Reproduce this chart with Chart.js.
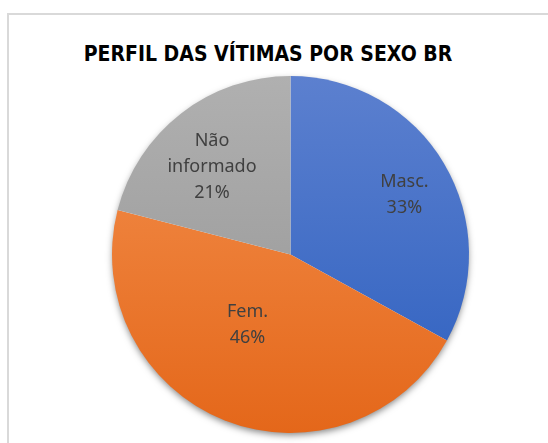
<!DOCTYPE html>
<html>
<head>
<meta charset="utf-8">
<script src="https://cdn.jsdelivr.net/npm/chart.js@4.4.1/dist/chart.umd.min.js"></script>
<style>
  body { margin: 0; background: #fff; overflow: hidden; }
  .frame { position: absolute; left: 7px; top: 13px; width: 600px; height: 500px; border: 2px solid #d9d9d9; box-sizing: border-box; }
  .title { position: absolute; left: 7px; width: 522px; top: 40px; text-align: center;
    font-family: "DejaVu Sans Condensed", "Liberation Sans", sans-serif; font-weight: bold;
    font-size: 21px; line-height: 28px; color: #000; }
  #myChart { position: absolute; left: 0; top: 0; }
</style>
</head>
<body>
<div class="frame"></div>
<div class="title">PERFIL DAS VÍTIMAS POR SEXO BR</div>
<canvas id="myChart" width="548" height="443"></canvas>
<script>
const categories = ['Masc.', 'Fem.', 'Não informado']
const percentages = [33, 46, 21]

// gradient colours (top -> bottom), Excel style
const colorsTop = ['#5c80cf', '#f4914f', '#b0b0b0']
const colorsBottom = ['#2c5fbf', '#e4671a', '#939393']
// label placement: share of the radius and a small turn (degrees) off the mid angle
const labelRadius = [0.72, 0.46, 0.66]
const labelTurn = [3, 10, -4]

const chart = document.querySelector('#myChart')

function sliceColor(ctx) {
  const area = ctx.chart.chartArea
  if (!area) return colorsTop[ctx.dataIndex]
  const g = ctx.chart.ctx.createLinearGradient(0, area.top, 0, area.bottom)
  g.addColorStop(0, colorsTop[ctx.dataIndex])
  g.addColorStop(1, colorsBottom[ctx.dataIndex])
  return g
}

const pieShadow = {
  id: 'pieShadow',
  beforeDatasetsDraw(c) {
    const arc = c.getDatasetMeta(0).data[0]
    if (!arc) return
    const ctx = c.ctx
    ctx.save()
    ctx.shadowColor = 'rgba(0,0,0,0.5)'
    ctx.shadowBlur = 7
    ctx.shadowOffsetY = 3
    ctx.fillStyle = '#fff'
    ctx.beginPath()
    ctx.arc(arc.x, arc.y, arc.outerRadius - 1, 0, Math.PI * 2)
    ctx.fill()
    ctx.restore()
  }
}

const sliceLabels = {
  id: 'sliceLabels',
  afterDatasetsDraw(c) {
    const ctx = c.ctx
    ctx.save()
    ctx.font = '18px "Noto Sans"'
    ctx.fillStyle = '#404040'
    ctx.textAlign = 'center'
    ctx.textBaseline = 'middle'
    c.getDatasetMeta(0).data.forEach((arc, i) => {
      const mid = (arc.startAngle + arc.endAngle) / 2 + labelTurn[i] * Math.PI / 180
      const r = arc.outerRadius * labelRadius[i]
      const x = arc.x + Math.cos(mid) * r
      const y = arc.y + Math.sin(mid) * r
      let lines = [categories[i]]
      if (ctx.measureText(categories[i]).width > 90) lines = categories[i].split(' ')
      lines.push(percentages[i] + '%')
      const lh = 26
      const y0 = y - (lines.length - 1) * lh / 2
      lines.forEach((t, k) => ctx.fillText(t, x, y0 + k * lh))
    })
    ctx.restore()
  }
}

new Chart(chart, {
  type: 'pie',
  data: {
    labels: categories,
    datasets: [{
      data: percentages,
      backgroundColor: sliceColor,
      borderWidth: 0,
      hoverOffset: 0
    }]
  },
  options: {
    responsive: false,
    animation: false,
    events: [],
    layout: { padding: { top: 76, bottom: 10, left: 33, right: 0 } },
    plugins: {
      legend: { display: false },
      title: { display: false },
      tooltip: { enabled: false }
    }
  },
  plugins: [pieShadow, sliceLabels]
})
</script>
</body>
</html>
